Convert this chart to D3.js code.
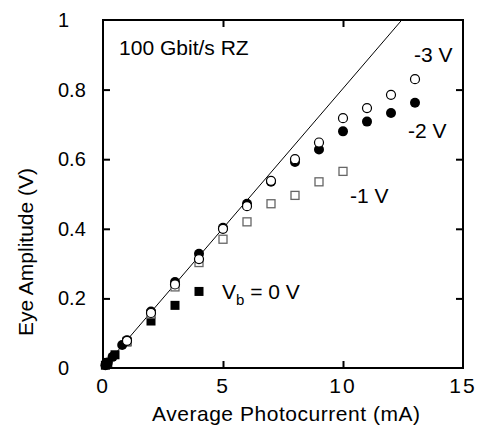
<!DOCTYPE html>
<html>
<head>
<meta charset="utf-8">
<script src="https://cdn.jsdelivr.net/npm/d3@7"></script>
<style>
  body { margin: 0; background: #fff; }
  svg text { font-family: "Liberation Sans", Arial, Helvetica, sans-serif; fill: #000; }
</style>
</head>
<body>
<div id="vis1"></div>
<script>
// setting constants
const FRAME_WIDTH = 481;
const FRAME_HEIGHT = 425;
const MARGINS = {left: 103, right: 18, top: 20, bottom: 57};

// data (photocurrent mA, eye amplitude V)
const v3Current = [1, 2, 3, 4, 5, 6, 7, 8, 9, 10, 11, 12, 13];
const v3Amp     = [0.078, 0.158, 0.24, 0.313, 0.40, 0.465, 0.538, 0.60, 0.648, 0.718, 0.747, 0.785, 0.83];

const v2Current = [0.1, 0.2, 0.4, 0.8, 1, 2, 3, 4, 5, 6, 7, 8, 9, 10, 11, 12, 13];
const v2Amp     = [0.008, 0.016, 0.032, 0.066, 0.08, 0.162, 0.247, 0.328, 0.403, 0.472, 0.535, 0.592, 0.628, 0.68, 0.708, 0.733, 0.762];

const v1Current = [1, 2, 3, 4, 5, 6, 7, 8, 9, 10];
const v1Amp     = [0.076, 0.155, 0.233, 0.303, 0.37, 0.42, 0.472, 0.496, 0.535, 0.565];

const v0Current = [0.1, 0.2, 0.5, 1, 2, 3, 4];
const v0Amp     = [0.008, 0.016, 0.038, 0.075, 0.135, 0.18, 0.22];

// linear fit line end points
const fitCurrent = [0, 12.45];
const fitAmp     = [0, 1];

// tick labels
const xTicks = [0, 5, 10, 15];
const yTicks = [0, 0.2, 0.4, 0.6, 0.8, 1];

const zip = (xs, ys) => xs.map((x, i) => ({x: x, y: ys[i]}));

// adding frame
const FRAME = d3.select("#vis1")
  .append("svg")
    .attr("width", FRAME_WIDTH)
    .attr("height", FRAME_HEIGHT);

const VIS_WIDTH = FRAME_WIDTH - MARGINS.left - MARGINS.right;
const VIS_HEIGHT = FRAME_HEIGHT - MARGINS.top - MARGINS.bottom;

// scales
const X_SCALE = d3.scaleLinear().domain([0, 15]).range([MARGINS.left, MARGINS.left + VIS_WIDTH]);
const Y_SCALE = d3.scaleLinear().domain([0, 1]).range([MARGINS.top + VIS_HEIGHT, MARGINS.top]);

// inward ticks on all four sides
const TICK = 7;
FRAME.append("g")
  .attr("transform", "translate(0," + (MARGINS.top + VIS_HEIGHT) + ")")
  .call(d3.axisTop(X_SCALE).tickValues([5, 10]).tickSize(TICK).tickFormat(""))
  .call(g => g.select(".domain").remove());
FRAME.append("g")
  .attr("transform", "translate(0," + MARGINS.top + ")")
  .call(d3.axisBottom(X_SCALE).tickValues([5, 10]).tickSize(TICK).tickFormat(""))
  .call(g => g.select(".domain").remove());
FRAME.append("g")
  .attr("transform", "translate(" + MARGINS.left + ",0)")
  .call(d3.axisRight(Y_SCALE).tickValues([0.2, 0.4, 0.6, 0.8]).tickSize(TICK).tickFormat(""))
  .call(g => g.select(".domain").remove());
FRAME.append("g")
  .attr("transform", "translate(" + (MARGINS.left + VIS_WIDTH) + ",0)")
  .call(d3.axisLeft(Y_SCALE).tickValues([0.2, 0.4, 0.6, 0.8]).tickSize(TICK).tickFormat(""))
  .call(g => g.select(".domain").remove());
FRAME.selectAll(".tick line").attr("stroke", "#000").attr("stroke-width", 2);

// plot border
FRAME.append("rect")
  .attr("x", MARGINS.left)
  .attr("y", MARGINS.top)
  .attr("width", VIS_WIDTH)
  .attr("height", VIS_HEIGHT)
  .attr("fill", "none")
  .attr("stroke", "#000")
  .attr("stroke-width", 2);

// tick labels
FRAME.selectAll(".xlab")
  .data(xTicks)
  .enter()
  .append("text")
    .attr("x", d => X_SCALE(d))
    .attr("y", MARGINS.top + VIS_HEIGHT + 25)
    .attr("text-anchor", "middle")
    .attr("font-size", "21px")
    .attr("letter-spacing", "2px")
    .text(d => d);

FRAME.selectAll(".ylab")
  .data(yTicks)
  .enter()
  .append("text")
    .attr("x", 58)
    .attr("y", d => Y_SCALE(d) + 7)
    .attr("font-size", "20px")
    .text(d => d);

// axis titles
FRAME.append("text")
  .attr("x", MARGINS.left + VIS_WIDTH / 2 + 3)
  .attr("y", 421)
  .attr("text-anchor", "middle")
  .attr("font-size", "21px")
  .attr("textLength", 268)
  .text("Average Photocurrent (mA)");

FRAME.append("text")
  .attr("transform", "translate(33," + (MARGINS.top + VIS_HEIGHT / 2 + 58) + ") rotate(-90)")
  .attr("text-anchor", "middle")
  .attr("font-size", "21px")
  .text("Eye Amplitude (V)");

// fit line
FRAME.append("path")
  .datum(zip(fitCurrent, fitAmp))
  .attr("fill", "none")
  .attr("stroke", "#000")
  .attr("stroke-width", 1)
  .attr("d", d3.line().x(d => X_SCALE(d.x)).y(d => Y_SCALE(d.y)));

// markers
const SQ = 9;
FRAME.selectAll(".v0")
  .data(zip(v0Current, v0Amp))
  .enter()
  .append("rect")
    .attr("x", d => X_SCALE(d.x) - SQ / 2)
    .attr("y", d => Y_SCALE(d.y) - SQ / 2)
    .attr("width", SQ)
    .attr("height", SQ)
    .attr("fill", "#000");

FRAME.selectAll(".v1")
  .data(zip(v1Current, v1Amp))
  .enter()
  .append("rect")
    .attr("x", d => X_SCALE(d.x) - (SQ - 1) / 2)
    .attr("y", d => Y_SCALE(d.y) - (SQ - 1) / 2)
    .attr("width", SQ - 1)
    .attr("height", SQ - 1)
    .attr("fill", "#fff")
    .attr("stroke", "#666")
    .attr("stroke-width", 1.3);

FRAME.selectAll(".v2")
  .data(zip(v2Current, v2Amp))
  .enter()
  .append("circle")
    .attr("cx", d => X_SCALE(d.x))
    .attr("cy", d => Y_SCALE(d.y))
    .attr("r", 5)
    .attr("fill", "#000");

FRAME.selectAll(".v3")
  .data(zip(v3Current, v3Amp))
  .enter()
  .append("circle")
    .attr("cx", d => X_SCALE(d.x))
    .attr("cy", d => Y_SCALE(d.y))
    .attr("r", 4.5)
    .attr("fill", "#fff")
    .attr("stroke", "#000")
    .attr("stroke-width", 1.2);

// annotations
const note = (x, y, s) => FRAME.append("text")
  .attr("x", X_SCALE(x))
  .attr("y", Y_SCALE(y))
  .attr("font-size", "21px")
  .text(s);

note(0.67, 0.90, "100 Gbit/s RZ");
note(12.96, 0.879, "-3 V");
note(12.71, 0.661, "-2 V");
note(10.29, 0.474, "-1 V");

const vb = note(4.96, 0.198, "V");
vb.append("tspan").attr("font-size", "15px").attr("dy", 6).text("b");
vb.append("tspan").attr("dy", -6).text(" = 0 V");
</script>
</body>
</html>
